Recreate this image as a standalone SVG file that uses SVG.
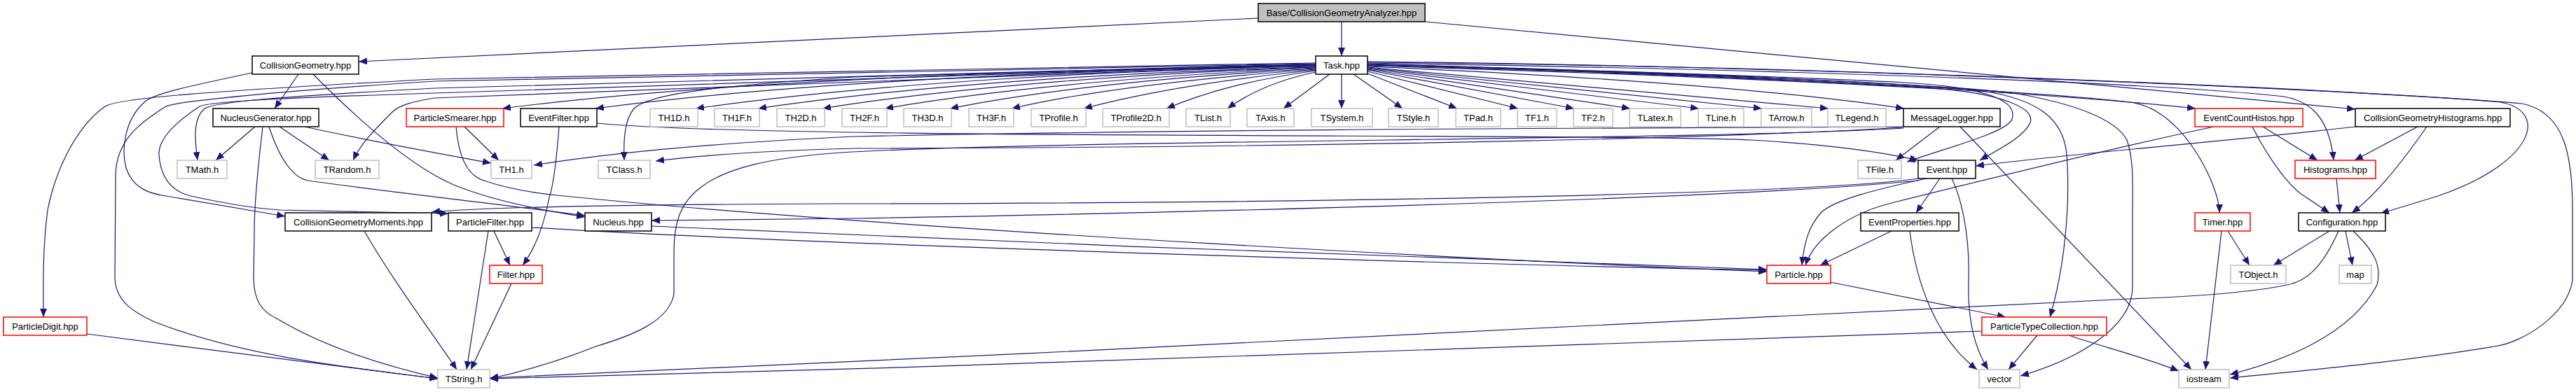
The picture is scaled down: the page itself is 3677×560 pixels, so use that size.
<svg xmlns="http://www.w3.org/2000/svg" width="3677" height="560" viewBox="0 0 3677 560">
<style>
rect{fill:#fff;stroke-width:1.5}
.k rect{stroke:#000}
.g rect{stroke:#bfbfbf}
.r rect{stroke:#ff0000}
.root rect{fill:#bfbfbf;stroke:#000}
text{font-family:"Liberation Sans",Arial,Helvetica,sans-serif;font-size:13px;text-anchor:middle;fill:#000}
#edges path{fill:none;stroke:#191970;stroke-width:1.2;marker-end:url(#ah)}
</style>
<defs>
<marker id="ah" markerWidth="13" markerHeight="10" refX="12" refY="5" orient="auto" markerUnits="userSpaceOnUse"><path d="M0,0 L12,5 L0,10 z" fill="#191970" stroke="none"/></marker>
</defs>
<rect x="0" y="0" width="3677" height="560" style="fill:#fff;stroke:none"/>
<g id="edges">
<path d="M1915,31 L1915,80"/>
<path d="M1796,26 L512,88"/>
<path d="M2034,31 L3362,156"/>
<path d="M1898,106 L1832,155"/>
<path d="M1878,103 C1820,115 1780,135 1752,155"/>
<path d="M1878,101 C1780,115 1720,132 1665,155"/>
<path d="M1878,100 C1760,112 1640,130 1547,155"/>
<path d="M1878,99 C1730,110 1560,128 1444,155"/>
<path d="M1878,98 C1700,108 1500,126 1356,155"/>
<path d="M1878,97 C1680,106 1440,124 1263,155"/>
<path d="M1878,96 C1650,104 1380,122 1174,155"/>
<path d="M1878,96 C1620,102 1320,120 1082,155"/>
<path d="M1878,95 C1600,100 1250,118 993,155"/>
<path d="M1878,94 C1580,99 1150,115 850,155"/>
<path d="M1878,94 C1560,98 1050,112 717,155"/>
<path d="M1915,106 L1915,155"/>
<path d="M1932,106 L2002,155"/>
<path d="M1952,105 L2080,155"/>
<path d="M1952,102 L2167,155"/>
<path d="M1952,100 L2247,155"/>
<path d="M1952,99 L2327,155"/>
<path d="M1952,98 L2425,155"/>
<path d="M1952,97 L2515,155"/>
<path d="M1952,96 L2610,155"/>
<path d="M1952,95 C2300,110 2550,130 2718,155"/>
<path d="M1952,94 C2500,110 2900,130 3134,155"/>
<path d="M1952,93 C2300,100 2600,112 2720,118 C2840,125 2880,145 2872,170 C2866,188 2790,208 2722,231"/>
<path d="M1952,93 C2300,102 2650,118 2760,126 C2860,134 2905,155 2898,175 C2890,195 2855,212 2826,229"/>
<path d="M1952,92 C2400,104 2750,120 2830,130 C2910,142 2945,170 2950,220 C2956,300 2945,390 2926,453"/>
<path d="M1952,92 C2400,102 2800,122 2880,134 C2960,148 3020,170 3036,200 C3046,230 3044,260 3044,300 L3044,410 C3044,470 2960,515 2884,537"/>
<path d="M1952,91 C2500,108 2900,130 3040,146 C3090,152 3130,200 3155,255 C3165,280 3168,292 3168,304"/>
<path d="M1952,90 C2600,100 3100,120 3260,138 C3300,145 3325,170 3331,229"/>
<path d="M1952,88 C2600,95 3300,125 3560,145 C3640,152 3625,230 3480,280 L3398,305"/>
<path d="M1952,89 C2600,94 3400,130 3600,148 C3660,160 3672,220 3672,300 L3672,400 C3665,450 3600,490 3560,495 C3420,518 3300,528 3183,540"/>
<path d="M1878,92 C1600,98 1400,104 1220,110 C1000,124 925,136 905,155 C891,172 890,200 891,229"/>
<path d="M1878,93 C1400,108 900,128 620,140 C590,145 570,150 560,160 C535,185 515,205 504,229"/>
<path d="M1878,92 C1400,102 900,115 620,126 C400,138 310,145 292,155 C275,170 278,200 282,229"/>
<path d="M1878,92 C1400,105 900,122 620,133 C400,140 300,145 285,152 C250,175 225,200 227,222 C230,260 250,276 277,281 C320,290 356,297 400,300 L640,305"/>
<path d="M1878,91 C1400,100 900,110 620,116 C400,130 250,145 237,152 C200,175 166,200 165,250 L164,397 C165,430 190,446 221,460 C350,510 500,525 625,541"/>
<path d="M1878,90 C1400,98 900,106 620,113 C300,130 170,140 150,152 C110,180 80,240 68,300 C60,360 62,420 62,453"/>
<path d="M426,106 L392,155"/>
<path d="M360,104 C260,125 215,135 205,147 C180,170 172,210 180,240 C190,270 215,277 237,280 L407,309"/>
<path d="M447,106 C520,180 590,240 650,265 C700,285 770,300 835,310"/>
<path d="M364,181 L308,229"/>
<path d="M375,181 C368,240 363,290 363,330 L362,397 C362,430 375,446 395,455 C470,500 560,525 625,540"/>
<path d="M399,181 L470,229"/>
<path d="M435,181 C520,200 620,218 701,233"/>
<path d="M384,181 C400,230 420,255 440,258 C560,275 700,290 835,308"/>
<path d="M663,181 L712,229"/>
<path d="M651,181 C655,230 670,252 691,258 C720,268 760,276 805,280 C1300,330 2200,375 2522,388"/>
<path d="M798,181 C795,220 790,265 784,282 C775,330 760,360 746,379"/>
<path d="M852,176 C1100,200 2300,190 2500,200 C2620,207 2690,218 2738,229"/>
<path d="M705,330 L728,379"/>
<path d="M697,330 L666,528"/>
<path d="M759,325 C1200,352 2200,380 2522,386"/>
<path d="M730,405 L672,528"/>
<path d="M520,330 C560,400 620,480 652,528"/>
<path d="M930,323 C1400,345 2200,375 2522,385"/>
<path d="M2738,255 C2600,275 2000,290 1200,291 C900,292 700,295 616,303"/>
<path d="M2738,258 C2500,282 1800,302 1220,312 L930,315"/>
<path d="M2750,255 C2680,270 2620,285 2600,303 C2580,325 2575,350 2572,379"/>
<path d="M2769,255 L2735,304"/>
<path d="M2786,255 C2798,280 2812,330 2810,400 C2808,460 2820,500 2838,528"/>
<path d="M2700,330 L2598,379"/>
<path d="M2726,330 C2735,400 2760,480 2822,528"/>
<path d="M2612,403 L2863,453"/>
<path d="M2908,479 L2867,528"/>
<path d="M2953,479 C3000,495 3060,510 3110,530"/>
<path d="M2829,473 C2500,490 1500,520 699,541"/>
<path d="M2769,181 L2706,229"/>
<path d="M2798,181 L3128,528"/>
<path d="M2717,181 C2400,183 1800,183 1220,195 C1000,205 850,222 762,236"/>
<path d="M2717,182 C2500,195 2000,210 1220,212 C1100,215 1000,222 936,230"/>
<path d="M2717,183 C2450,200 1500,200 1200,218 C1100,225 1035,240 1000,268 C970,290 962,320 962,360 L962,420 C955,460 900,480 850,495 C800,515 750,530 699,541"/>
<path d="M3338,330 C3320,370 3300,400 3265,407 C3200,420 3100,425 3040,427 C2500,455 1500,505 699,540"/>
<path d="M3325,330 L3245,379"/>
<path d="M3348,330 L3358,379"/>
<path d="M3359,330 C3390,360 3400,380 3393,407 C3360,470 3280,510 3183,535"/>
<path d="M3180,330 L3211,379"/>
<path d="M3171,330 L3148,528"/>
<path d="M3335,255 L3340,304"/>
<path d="M3230,181 L3308,229"/>
<path d="M3215,181 C3240,230 3270,270 3292,282 L3325,304"/>
<path d="M3160,181 C3000,215 2800,265 2700,290 C2640,305 2590,340 2577,379"/>
<path d="M3451,181 L3361,229"/>
<path d="M3464,181 C3430,230 3390,280 3357,304"/>
<path d="M3362,181 C3200,200 3000,215 2820,237"/>
<path d="M124,477 C300,500 500,525 625,541"/>
</g>
<g id="n_base" class="root"><rect x="1796" y="5" width="238" height="26"/><text x="1915" y="22.5">Base/CollisionGeometryAnalyzer.hpp</text></g>
<g id="n_cg" class="k"><rect x="360" y="80" width="152" height="26"/><text x="436" y="97.5">CollisionGeometry.hpp</text></g>
<g id="n_task" class="k"><rect x="1878" y="80" width="74" height="26"/><text x="1915" y="97.5">Task.hpp</text></g>
<g id="n_nucgen" class="k"><rect x="304" y="155" width="151" height="26"/><text x="379.5" y="172.5">NucleusGenerator.hpp</text></g>
<g id="n_psmear" class="r"><rect x="580" y="155" width="139" height="26"/><text x="649.5" y="172.5">ParticleSmearer.hpp</text></g>
<g id="n_evfilter" class="k"><rect x="743" y="155" width="109" height="26"/><text x="797.5" y="172.5">EventFilter.hpp</text></g>
<g id="n_th1d" class="g"><rect x="928" y="155" width="68" height="26"/><text x="962" y="172.5">TH1D.h</text></g>
<g id="n_th1f" class="g"><rect x="1020" y="155" width="64" height="26"/><text x="1052" y="172.5">TH1F.h</text></g>
<g id="n_th2d" class="g"><rect x="1109" y="155" width="68" height="26"/><text x="1143" y="172.5">TH2D.h</text></g>
<g id="n_th2f" class="g"><rect x="1202" y="155" width="64" height="26"/><text x="1234" y="172.5">TH2F.h</text></g>
<g id="n_th3d" class="g"><rect x="1290" y="155" width="68" height="26"/><text x="1324" y="172.5">TH3D.h</text></g>
<g id="n_th3f" class="g"><rect x="1383" y="155" width="64" height="26"/><text x="1415" y="172.5">TH3F.h</text></g>
<g id="n_tprof" class="g"><rect x="1472" y="155" width="78" height="26"/><text x="1511" y="172.5">TProfile.h</text></g>
<g id="n_tprof2" class="g"><rect x="1574" y="155" width="95" height="26"/><text x="1621.5" y="172.5">TProfile2D.h</text></g>
<g id="n_tlist" class="g"><rect x="1693" y="155" width="63" height="26"/><text x="1724.5" y="172.5">TList.h</text></g>
<g id="n_taxis" class="g"><rect x="1780" y="155" width="67" height="26"/><text x="1813.5" y="172.5">TAxis.h</text></g>
<g id="n_tsystem" class="g"><rect x="1872" y="155" width="87" height="26"/><text x="1915.5" y="172.5">TSystem.h</text></g>
<g id="n_tstyle" class="g"><rect x="1982" y="155" width="71" height="26"/><text x="2017.5" y="172.5">TStyle.h</text></g>
<g id="n_tpad" class="g"><rect x="2078" y="155" width="64" height="26"/><text x="2110" y="172.5">TPad.h</text></g>
<g id="n_tf1" class="g"><rect x="2166" y="155" width="56" height="26"/><text x="2194" y="172.5">TF1.h</text></g>
<g id="n_tf2" class="g"><rect x="2246" y="155" width="56" height="26"/><text x="2274" y="172.5">TF2.h</text></g>
<g id="n_tlatex" class="g"><rect x="2326" y="155" width="73" height="26"/><text x="2362.5" y="172.5">TLatex.h</text></g>
<g id="n_tline" class="g"><rect x="2424" y="155" width="65" height="26"/><text x="2456.5" y="172.5">TLine.h</text></g>
<g id="n_tarrow" class="g"><rect x="2514" y="155" width="72" height="26"/><text x="2550" y="172.5">TArrow.h</text></g>
<g id="n_tlegend" class="g"><rect x="2609" y="155" width="83" height="26"/><text x="2650.5" y="172.5">TLegend.h</text></g>
<g id="n_msglog" class="k"><rect x="2717" y="155" width="138" height="26"/><text x="2786" y="172.5">MessageLogger.hpp</text></g>
<g id="n_ech" class="r"><rect x="3133" y="155" width="154" height="26"/><text x="3210" y="172.5">EventCountHistos.hpp</text></g>
<g id="n_cgh" class="k"><rect x="3362" y="155" width="221" height="26"/><text x="3472.5" y="172.5">CollisionGeometryHistograms.hpp</text></g>
<g id="n_tmath" class="g"><rect x="253" y="229" width="71" height="26"/><text x="288.5" y="246.5">TMath.h</text></g>
<g id="n_trandom" class="g"><rect x="450" y="229" width="91" height="26"/><text x="495.5" y="246.5">TRandom.h</text></g>
<g id="n_th1" class="g"><rect x="701" y="229" width="58" height="26"/><text x="730" y="246.5">TH1.h</text></g>
<g id="n_tclass" class="g"><rect x="854" y="229" width="74" height="26"/><text x="891" y="246.5">TClass.h</text></g>
<g id="n_tfile" class="g"><rect x="2652" y="229" width="62" height="26"/><text x="2683" y="246.5">TFile.h</text></g>
<g id="n_event" class="k"><rect x="2738" y="229" width="82" height="26"/><text x="2779" y="246.5">Event.hpp</text></g>
<g id="n_histos" class="r"><rect x="3276" y="229" width="115" height="26"/><text x="3333.5" y="246.5">Histograms.hpp</text></g>
<g id="n_cgm" class="k"><rect x="407" y="304" width="209" height="26"/><text x="511.5" y="321.5">CollisionGeometryMoments.hpp</text></g>
<g id="n_pfilter" class="k"><rect x="640" y="304" width="119" height="26"/><text x="699.5" y="321.5">ParticleFilter.hpp</text></g>
<g id="n_nucleus" class="k"><rect x="835" y="304" width="95" height="26"/><text x="882.5" y="321.5">Nucleus.hpp</text></g>
<g id="n_evprop" class="k"><rect x="2656" y="304" width="140" height="26"/><text x="2726" y="321.5">EventProperties.hpp</text></g>
<g id="n_timer" class="r"><rect x="3133" y="304" width="79" height="26"/><text x="3172.5" y="321.5">Timer.hpp</text></g>
<g id="n_config" class="k"><rect x="3281" y="304" width="124" height="26"/><text x="3343" y="321.5">Configuration.hpp</text></g>
<g id="n_filter" class="r"><rect x="699" y="379" width="75" height="26"/><text x="736.5" y="396.5">Filter.hpp</text></g>
<g id="n_particle" class="r"><rect x="2522" y="379" width="91" height="26"/><text x="2567.5" y="396.5">Particle.hpp</text></g>
<g id="n_tobject" class="g"><rect x="3184" y="379" width="79" height="26"/><text x="3223.5" y="396.5">TObject.h</text></g>
<g id="n_map" class="g"><rect x="3339" y="379" width="46" height="26"/><text x="3362" y="396.5">map</text></g>
<g id="n_pdigit" class="r"><rect x="5" y="453" width="119" height="26"/><text x="64.5" y="470.5">ParticleDigit.hpp</text></g>
<g id="n_ptc" class="r"><rect x="2829" y="453" width="178" height="26"/><text x="2918" y="470.5">ParticleTypeCollection.hpp</text></g>
<g id="n_tstring" class="g"><rect x="625" y="528" width="74" height="26"/><text x="662" y="545.5">TString.h</text></g>
<g id="n_vector" class="g"><rect x="2825" y="528" width="58" height="26"/><text x="2854" y="545.5">vector</text></g>
<g id="n_iostream" class="g"><rect x="3110" y="528" width="72" height="26"/><text x="3146" y="545.5">iostream</text></g>
</svg>
